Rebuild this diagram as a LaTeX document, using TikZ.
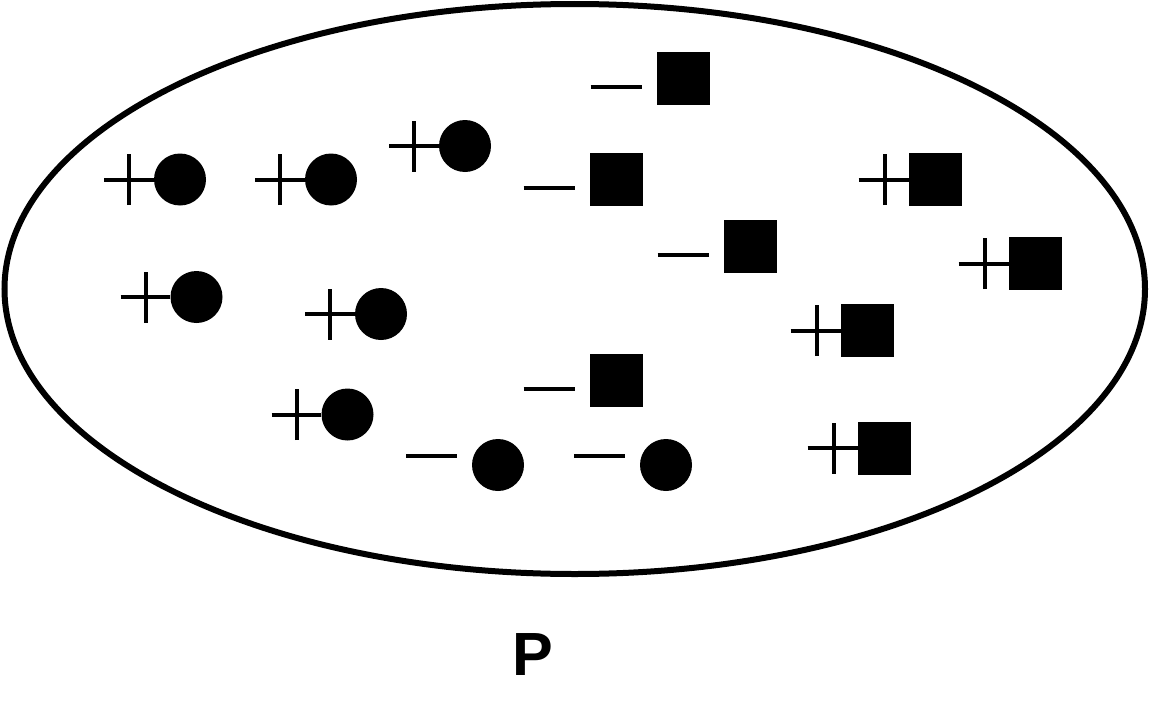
\documentclass[tikz,border=0pt]{standalone}
\usepackage{fontspec}
\setmainfont{Liberation Sans}
\usetikzlibrary{shapes.geometric}
\begin{document}
\begin{tikzpicture}[x=1pt,y=-1pt,
  dot/.style={circle,fill=black,inner sep=0pt,minimum size=52pt},
  blk/.style={rectangle,fill=black,inner sep=0pt,minimum size=53pt},
  sign/.style={line width=4pt}]
\useasboundingbox (0,0) rectangle (1152,704);
\node[draw=black,line width=6pt,ellipse,inner sep=0pt,minimum width=1140.5pt,minimum height=570pt] (P) at (574.75,289) {};
% positive circles
\foreach \n/\x/\y in {c1/180/179.5,c2/331/179.5,c3/465/146,c4/196.5/297,c5/381/314,c6/347.5/414.5}{
  \node[dot] (\n) at (\x,\y) {};
  \draw[sign] ([xshift=-76pt]\n.center) -- (\n.west);
  \draw[sign] ([xshift=-51pt,yshift=-25.5pt]\n.center) -- ([xshift=-51pt,yshift=25.5pt]\n.center);
}
% negative circles
\foreach \n/\x/\y in {n1/498/465,n2/666/465}{
  \node[dot] (\n) at (\x,\y) {};
  \draw[sign] ([xshift=-92pt,yshift=9pt]\n.center) -- ([xshift=-41pt,yshift=9pt]\n.center);
}
% negative squares
\foreach \n/\x/\y in {s1/683.5/78.5,s2/616.5/179.5,s3/750.5/246.5,s4/616.5/380.5}{
  \node[blk] (\n) at (\x,\y) {};
  \draw[sign] ([xshift=-93pt,yshift=-8.5pt]\n.center) -- ([xshift=-42pt,yshift=-8.5pt]\n.center);
}
% positive squares
\foreach \n/\x/\y in {q1/935.5/179.5,q2/1035.5/263.5,q3/867.5/330.5,q4/884.5/448}{
  \node[blk] (\n) at (\x,\y) {};
  \draw[sign] ([xshift=-77pt]\n.center) -- (\n.west);
  \draw[sign] ([xshift=-50.5pt,yshift=-25.5pt]\n.center) -- ([xshift=-50.5pt,yshift=25.5pt]\n.center);
}
\node[font=\bfseries\fontsize{61}{61}\selectfont,inner sep=0pt] (lbl) at (533,655) {P};
\end{tikzpicture}
\end{document}
